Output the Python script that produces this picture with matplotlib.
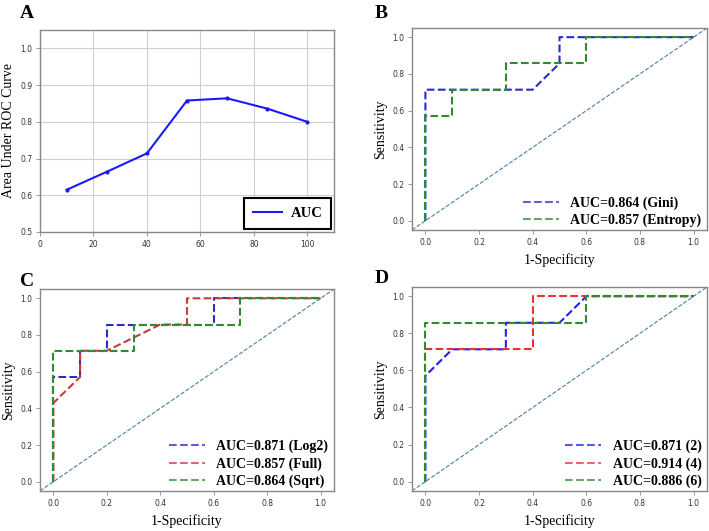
import matplotlib
matplotlib.use("Agg")
import matplotlib.pyplot as plt

# Panel A
trees = [10, 25, 40, 55, 70, 85, 100]
auc_vals = [0.615, 0.664, 0.714, 0.858, 0.864, 0.836, 0.800]

# Panel B
b_gini_x = [0, 0, 0.4, 0.5, 0.5, 1.0]
b_gini_y = [0, 0.714, 0.714, 0.857, 1.0, 1.0]
b_ent_x = [0, 0, 0.1, 0.1, 0.3, 0.3, 0.6, 0.6, 1.0]
b_ent_y = [0, 0.571, 0.571, 0.714, 0.714, 0.857, 0.857, 1.0, 1.0]

# Panel C
c_log2_x = [0, 0, 0.1, 0.1, 0.2, 0.2, 0.6, 0.6, 1.0]
c_log2_y = [0, 0.571, 0.571, 0.714, 0.714, 0.857, 0.857, 1.0, 1.0]
c_full_x = [0, 0, 0.1, 0.1, 0.2, 0.4, 0.5, 0.5, 1.0]
c_full_y = [0, 0.429, 0.571, 0.714, 0.714, 0.857, 0.857, 1.0, 1.0]
c_sqrt_x = [0, 0, 0.3, 0.3, 0.7, 0.7, 1.0]
c_sqrt_y = [0, 0.714, 0.714, 0.857, 0.857, 1.0, 1.0]

# Panel D
d_2_x = [0, 0, 0.1, 0.3, 0.3, 0.5, 0.6, 1.0]
d_2_y = [0, 0.571, 0.714, 0.714, 0.857, 0.857, 1.0, 1.0]
d_4_x = [0, 0, 0.4, 0.4, 1.0]
d_4_y = [0, 0.714, 0.714, 1.0, 1.0]
d_6_x = [0, 0, 0.6, 0.6, 1.0]
d_6_y = [0, 0.857, 0.857, 1.0, 1.0]

serif = "Liberation Serif"
tick_fs = 5.5
spine_col = "#888888"

fig = plt.figure(figsize=(7.09, 5.31), dpi=100)

def style(ax):
    for s in ax.spines.values():
        s.set_color(spine_col)
        s.set_linewidth(1.0)
    ax.tick_params(labelsize=tick_fs, colors="#333333", length=3, width=0.6, pad=2.5)
    ax.tick_params(axis="both", color=spine_col)

# A
axA = fig.add_axes([0.0564, 0.5631, 0.4147, 0.3804])
axA.plot(trees, auc_vals, color="#1a1aff", lw=1.5, marker="o", ms=2, label="AUC")
axA.set_xlim(0, 110)
axA.set_ylim(0.5, 1.05)
axA.set_xticks([0, 20, 40, 60, 80, 100])
axA.set_yticks([0.5, 0.6, 0.7, 0.8, 0.9, 1.0])
axA.grid(True, color="#d0d0d0", lw=0.8)
axA.set_ylabel("Area Under ROC Curve", family=serif, fontsize=10)
style(axA)
legA = axA.legend(loc="lower right", prop={"family": serif, "weight": "bold", "size": 10.5},
                  fancybox=False, framealpha=1, borderaxespad=0.2, handlelength=2.0,
                  borderpad=0.6, handletextpad=0.6)
legA.get_frame().set_edgecolor("black")
legA.get_frame().set_linewidth(1.5)
for h in legA.get_lines():
    h.set_marker("")

def roc_axes(rect, curves):
    ax = fig.add_axes(rect)
    ax.plot([-0.05, 1.05], [-0.05, 1.05], ls="--", color="#4a7fa8", lw=0.8)
    for x, y, col, lab in curves:
        ax.plot(x, y, ls="--", color=col, lw=1.5, label=lab)
    ax.set_xlim(-0.05, 1.05)
    ax.set_ylim(-0.05, 1.05)
    ax.set_xticks([0, 0.2, 0.4, 0.6, 0.8, 1.0])
    ax.set_yticks([0, 0.2, 0.4, 0.6, 0.8, 1.0])
    ax.set_ylabel("Sensitivity", family=serif, fontsize=10)
    ax.set_xlabel("1-Specificity", family=serif, fontsize=10, labelpad=5)
    style(ax)
    leg = ax.legend(loc="lower right", frameon=False,
                    prop={"family": serif, "weight": "bold", "size": 10},
                    handlelength=2.6, borderaxespad=0.0, labelspacing=0.3,
                    bbox_to_anchor=(1.0, -0.015))
    for h in leg.get_lines():
        h.set_alpha(0.75)
    return ax

roc_axes([0.5811, 0.5669, 0.4161, 0.3804], [
    (b_gini_x, b_gini_y, "#2b2bc8", "AUC=0.864 (Gini)"),
    (b_ent_x, b_ent_y, "#2e8b2e", "AUC=0.857 (Entropy)"),
])
roc_axes([0.0564, 0.0755, 0.4147, 0.380], [
    (c_log2_x, c_log2_y, "#2b2bc8", "AUC=0.871 (Log2)"),
    (c_full_x, c_full_y, "#c83c3c", "AUC=0.857 (Full)"),
    (c_sqrt_x, c_sqrt_y, "#2e8b2e", "AUC=0.864 (Sqrt)"),
])
roc_axes([0.5811, 0.0755, 0.4161, 0.384], [
    (d_2_x, d_2_y, "#2020f0", "AUC=0.871 (2)"),
    (d_4_x, d_4_y, "#f03030", "AUC=0.914 (4)"),
    (d_6_x, d_6_y, "#2e8b2e", "AUC=0.886 (6)"),
])

for lbl, x, y in [("A", 0.028, 0.975), ("B", 0.529, 0.975), ("C", 0.028, 0.47), ("D", 0.529, 0.475)]:
    fig.text(x, y, lbl, family=serif, weight="bold", fontsize=14, va="center", ha="left")

fig.savefig("out.png", dpi=100, facecolor="white")
